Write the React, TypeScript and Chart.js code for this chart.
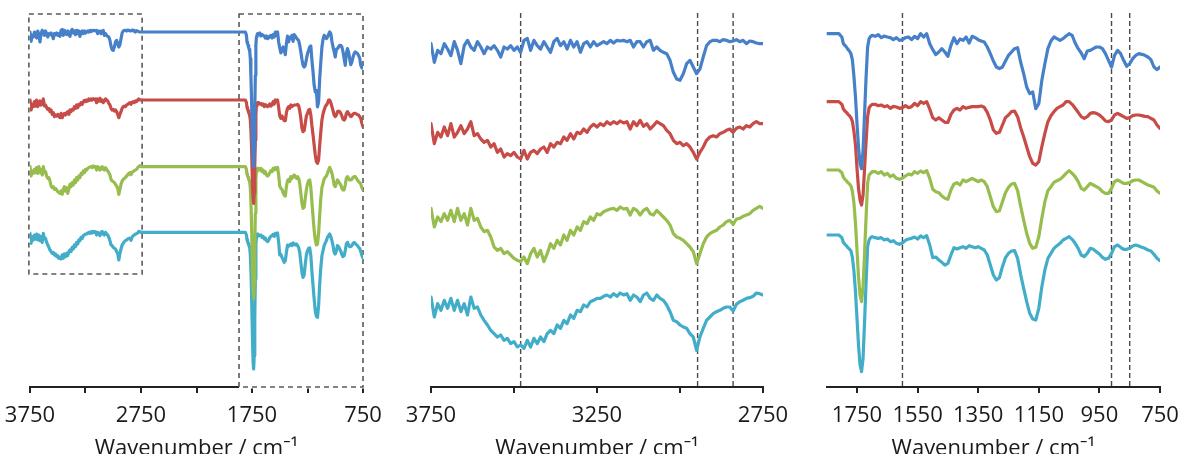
import React, { useEffect, useRef } from 'react';
import { Chart, registerables } from 'chart.js';

Chart.register(...registerables);

// ---- wavenumber grids (cm^-1) ----
const WN_A = [
  3750, 3740, 3730, 3720, 3710, 3700, 3690, 3680, 3670, 3660,
  3650, 3640, 3630, 3620, 3610, 3600, 3590, 3580, 3570, 3560,
  3550, 3540, 3530, 3520, 3510, 3500, 3490, 3480, 3470, 3460,
  3450, 3440, 3430, 3420, 3410, 3400, 3390, 3380, 3370, 3360,
  3350, 3340, 3330, 3320, 3310, 3300, 3290, 3280, 3270, 3260,
  3250, 3240, 3230, 3220, 3210, 3200, 3190, 3180, 3170, 3160,
  3150, 3140, 3130, 3120, 3110, 3100, 3090, 3080, 3070, 3060,
  3050, 3040, 3030, 3020, 3010, 3000, 2990, 2980, 2970, 2960,
  2950, 2940, 2930, 2920, 2910, 2900, 2890, 2880, 2870, 2860,
  2850, 2840, 2830, 2820, 2810, 2800, 2790, 2780, 2770, 2760,
  2750,
];

const WN_B = [
  1850, 1840, 1830, 1820, 1810, 1800, 1795, 1790, 1785, 1780, 1775, 1770, 1765,
  1760, 1755, 1750, 1745, 1740, 1735, 1730, 1725, 1720, 1715, 1710, 1705, 1700,
  1690, 1680, 1670, 1660, 1650, 1640, 1630, 1620, 1610, 1600,
  1590, 1580, 1570, 1560, 1550, 1540, 1530, 1520, 1510, 1500,
  1490, 1480, 1470, 1460, 1450, 1440, 1430, 1420, 1410, 1400,
  1390, 1380, 1370, 1360, 1350, 1340, 1330, 1320, 1310, 1300,
  1290, 1280, 1270, 1260, 1250, 1240, 1230, 1220, 1210, 1200,
  1190, 1180, 1170, 1160, 1150, 1140, 1130, 1120, 1110, 1100,
  1090, 1080, 1070, 1060, 1050, 1040, 1030, 1020, 1010, 1000,
  990, 980, 970, 960, 950, 940, 930, 920, 910, 900,
  890, 880, 870, 860, 850, 840, 830, 820, 810, 800,
  790, 780, 770, 760, 750,
];

// ---- relative transmittance (a.u.), high-wavenumber region ----
const BLUE_A = [
  0, -28, -10, -15, 0, -8, -18, 3, -10, -30,
  -3, 5, -5, -10, 3, -5, -15, -5, -8, -3,
  -10, -20, -5, -8, -3, -10, -5, -13, 5, 8,
  -10, 5, -3, -8, 3, -5, -13, 3, 8, -3,
  3, -8, 5, -5, 3, -13, 0, 3, -5, 3,
  -3, 0, 3, 0, 5, 1, 5, 4, 5, 3,
  5, -5, 3, 3, -5, 3, 5, -10, -5, -10,
  -13, -15, -25, -43, -53, -55, -45, -30, -25, -35,
  -45, -38, -20, -3, 3, 5, 5, 3, 6, 5,
  3, 4, 6, 3, 5, 0, 4, 3, 1, 0,
  0,
];
const RED_A = [
  0, -30, -13, -20, -5, -18, 0, -20, -13, -3,
  -15, -8, 3, -18, -15, -23, -28, -25, -35, -30,
  -43, -38, -50, -45, -48, -43, -50, -53, -40, -53,
  -43, -40, -45, -38, -35, -43, -30, -35, -28, -30,
  -20, -25, -15, -23, -13, -15, -8, -13, -5, -1,
  -5, 0, -3, 3, -1, 3, 0, 4, 1, 3,
  -8, 3, -3, 5, -4, 0, -8, -3, 3, 0,
  -3, -10, -15, -25, -30, -28, -33, -30, -35, -43,
  -53, -43, -35, -25, -20, -18, -20, -15, -13, -10,
  -8, -13, -7, -5, -8, -3, -5, 0, 3, 0,
  0,
];
const GREEN_A = [
  0, -28, -13, -20, -8, -18, -3, -20, 0, -18,
  -8, -25, 0, -18, -15, -28, -35, -33, -43, -58,
  -63, -60, -68, -65, -70, -75, -78, -80, -73, -83,
  -68, -60, -73, -63, -80, -68, -53, -60, -48, -55,
  -40, -48, -33, -40, -28, -33, -20, -23, -13, -18,
  -8, -10, -5, -3, -1, 0, -3, 2, -1, 0,
  -10, 0, -3, -10, -3, 0, -8, -10, -3, -8,
  -13, -18, -25, -38, -43, -45, -48, -53, -58, -65,
  -83, -68, -53, -43, -38, -35, -33, -28, -25, -20,
  -18, -24, -16, -15, -12, -10, -8, -3, 0, 3,
  0,
];
const CYAN_A = [
  -3, -33, -13, -23, -8, -20, -5, -23, -8, -25,
  -13, -30, -3, -20, -18, -30, -38, -45, -53, -58,
  -63, -60, -68, -65, -73, -70, -78, -75, -80, -68,
  -78, -65, -73, -63, -70, -58, -53, -58, -45, -50,
  -38, -43, -30, -35, -23, -25, -15, -18, -10, -8,
  -5, -5, -2, 0, -3, 2, -2, 3, 0, 2,
  -8, 0, -3, -10, 0, 3, -5, -8, 0, -5,
  -8, -15, -25, -38, -40, -45, -48, -50, -58, -63,
  -83, -63, -50, -38, -33, -28, -25, -23, -20, -18,
  -18, -24, -14, -10, -8, -5, -4, -2, 3, 2,
  0,
];

// ---- relative transmittance (a.u.), fingerprint region ----
const BLUE_B = [
  0, 0, 0, 0, 0, -10, -30, -35, -40, -47, -52, -60, -80,
  -130, -190, -270, -340, -390, -405, -350, -240, -130, -40, -15, -8, -5,
  -8, -3, -12, -7, -10, -12, -18, -12, -20, -18,
  -12, -10, -18, -8, -15, 0, -10, 0, -30, -48,
  -63, -55, -45, -55, -68, -35, -12, -30, -16, -20,
  -10, -28, -8, -12, -18, -22, -25, -40, -60, -82,
  -100, -105, -100, -82, -65, -55, -45, -42, -85, -120,
  -160, -180, -175, -225, -210, -140, -90, -45, -22, -10,
  -15, -20, -15, -7, 0, -5, -28, -45, -58, -75,
  -52, -50, -45, -40, -40, -45, -60, -80, -100, -65,
  -50, -60, -80, -98, -90, -75, -65, -60, -62, -65,
  -70, -78, -100, -108, -100,
];
const RED_B = [
  0, 0, 0, 0, 0, -8, -22, -28, -32, -38, -42, -48, -60,
  -90, -130, -200, -260, -295, -310, -280, -200, -120, -45, -18, -12, -8,
  -8, -12, -10, -15, -12, -20, -14, -16, -20, -18,
  -12, -18, -15, -5, -12, 0, -5, 0, -22, -48,
  -55, -48, -55, -62, -62, -38, -25, -20, -25, -15,
  -20, -17, -15, -15, -15, -13, -17, -32, -55, -85,
  -95, -92, -70, -48, -40, -30, -28, -45, -78, -105,
  -135, -165, -185, -190, -180, -135, -95, -60, -42, -30,
  -20, -15, -10, 0, 0, -8, -20, -32, -45, -50,
  -45, -35, -33, -35, -40, -48, -58, -60, -55, -40,
  -35, -40, -45, -50, -48, -42, -40, -40, -42, -44,
  -45, -50, -55, -70, -80,
];
const GREEN_B = [
  0, 0, 0, 0, 0, -8, -22, -28, -32, -38, -42, -48, -65,
  -100, -160, -240, -320, -375, -395, -350, -250, -140, -40, -15, -10, -5,
  -5, -10, -5, -15, -10, -20, -15, -25, -28, -25,
  -18, -12, -15, -5, -10, -3, -8, -2, -25, -58,
  -65, -68, -78, -85, -88, -60, -42, -38, -45, -30,
  -35, -30, -25, -30, -35, -30, -35, -50, -80, -110,
  -125, -122, -95, -68, -52, -42, -40, -62, -108, -150,
  -190, -220, -235, -232, -200, -145, -95, -62, -50, -37,
  -32, -28, -20, -10, -2, -10, -20, -35, -55, -60,
  -50, -40, -45, -50, -55, -65, -70, -70, -55, -35,
  -30, -35, -40, -40, -38, -32, -30, -30, -35, -40,
  -45, -48, -52, -63, -70,
];
const CYAN_B = [
  0, 0, 0, 0, 0, -8, -22, -28, -32, -38, -42, -48, -68,
  -110, -170, -250, -330, -390, -410, -370, -260, -140, -35, -15, -8, -5,
  -8, -10, -8, -15, -12, -20, -17, -25, -28, -24,
  -16, -12, -10, -6, -12, -3, -8, -2, -30, -68,
  -66, -75, -82, -90, -85, -60, -38, -42, -38, -35,
  -40, -32, -35, -38, -35, -40, -45, -60, -90, -120,
  -135, -128, -95, -68, -55, -48, -47, -70, -118, -160,
  -200, -235, -252, -255, -220, -155, -105, -70, -55, -40,
  -32, -25, -15, -10, -5, -13, -25, -40, -60, -65,
  -55, -40, -43, -50, -57, -67, -73, -70, -55, -35,
  -30, -37, -43, -43, -40, -33, -30, -33, -37, -40,
  -45, -48, -58, -70, -77,
];

const SERIES_A = [BLUE_A, RED_A, GREEN_A, CYAN_A];
const SERIES_B = [BLUE_B, RED_B, GREEN_B, CYAN_B];
const SERIES_NAMES = ['Spectrum 1', 'Spectrum 2', 'Spectrum 3', 'Spectrum 4'];

// vertical stacking offsets (a.u.) for each panel
const OFFSETS_P1 = [1065, 861, 661, 464];
const OFFSETS_P2 = [515, 395, 268, 138];
const OFFSETS_P3 = [1060, 856, 651, 456];

// axis ticks / labels
const P1_TICKS = [3750, 3250, 2750, 2250, 1750, 1250, 750];
const P1_LABELS = [3750, 2750, 1750, 750];
const P2_TICKS = [3750, 3500, 3250, 3000, 2750];
const P2_LABELS = [3750, 3250, 2750];
const P3_TICKS = [1750, 1550, 1350, 1150, 950, 750];
const P3_LABELS = [1750, 1550, 1350, 1150, 950, 750];

// marker lines (cm^-1)
const P2_MARKERS = [3480, 2947, 2840];
const P3_MARKERS = [1600, 910, 850];

const AXIS_TITLE = 'Wavenumber / cm\u207B\u00B9';

const COLORS = ['#4680C8', '#C74B47', '#97BD4E', '#42ADC9'];
const FONT = "'Open Sans', 'Noto Sans', sans-serif";
const CANVAS_H = 470;

type Box = { x1: number; x2: number; y1: number; y2: number; onAxis?: boolean };
type Panel = {
  left: number; width: number; padL: number; padR: number;
  xMin: number; xMax: number; yMax: number;
  wn: number[]; series: number[][]; offsets: number[];
  ticks: number[]; labels: number[];
  boxes: Box[]; markers: number[]; markerTop: number;
};

const PANELS: Panel[] = [
  {
    left: 0, width: 400, padL: 30, padR: 37,
    xMin: 750, xMax: 3750, yMax: 1140,
    wn: [...WN_A, ...WN_B],
    series: SERIES_A.map((a, i) => [...a, ...SERIES_B[i]]),
    offsets: OFFSETS_P1,
    ticks: P1_TICKS, labels: P1_LABELS,
    boxes: [
      { x1: 3760, x2: 2740, y1: 1119, y2: 339 },
      { x1: 1867, x2: 750, y1: 1119, y2: 0, onAxis: true },
    ],
    markers: [], markerTop: 0,
  },
  {
    left: 400, width: 400, padL: 31, padR: 37,
    xMin: 2750, xMax: 3750, yMax: 570,
    wn: WN_A, series: SERIES_A, offsets: OFFSETS_P2,
    ticks: P2_TICKS, labels: P2_LABELS,
    boxes: [], markers: P2_MARKERS, markerTop: 561,
  },
  {
    left: 790, width: 393, padL: 36.7, padR: 23,
    xMin: 750, xMax: 1850, yMax: 1140,
    wn: WN_B, series: SERIES_B, offsets: OFFSETS_P3,
    ticks: P3_TICKS, labels: P3_LABELS,
    boxes: [], markers: P3_MARKERS, markerTop: 1122,
  },
];

function makeAnnotations(p: Panel) {
  return {
    id: 'dashedAnnotations',
    beforeDatasetsDraw(chart: any) {
      const { ctx } = chart;
      const xs = chart.scales.x;
      const ys = chart.scales.y;
      ctx.save();
      for (const b of p.boxes) {
        const x1 = xs.getPixelForValue(b.x1);
        const x2 = xs.getPixelForValue(b.x2);
        const y1 = ys.getPixelForValue(b.y1);
        const y2 = ys.getPixelForValue(b.y2);
        if (b.onAxis) {
          ctx.setLineDash([]);
          ctx.strokeStyle = '#ffffff';
          ctx.lineWidth = 3;
          ctx.beginPath();
          ctx.moveTo(x1, y2);
          ctx.lineTo(x2 + 2, y2);
          ctx.stroke();
        }
        ctx.setLineDash([5, 4]);
        ctx.strokeStyle = '#5a5a5a';
        ctx.lineWidth = 1.6;
        ctx.strokeRect(x1, y1, x2 - x1, y2 - y1);
      }
      for (const m of p.markers) {
        const x = xs.getPixelForValue(m);
        ctx.setLineDash([5, 3]);
        ctx.strokeStyle = '#4a4a4a';
        ctx.lineWidth = 1.4;
        ctx.beginPath();
        ctx.moveTo(x, ys.getPixelForValue(p.markerTop));
        ctx.lineTo(x, ys.getPixelForValue(0));
        ctx.stroke();
      }
      ctx.restore();
    },
  };
}

function SpectrumPanel({ p }: { p: Panel }) {
  const ref = useRef<HTMLCanvasElement | null>(null);
  useEffect(() => {
    if (!ref.current) return;
    const datasets = p.series.map((s, i) => ({
      label: SERIES_NAMES[i],
      data: p.wn.map((x, k) => ({ x, y: p.offsets[i] + s[k] })),
      borderColor: COLORS[i],
      backgroundColor: COLORS[i],
      borderWidth: 3.2,
      pointRadius: 0,
      tension: 0,
      borderJoinStyle: 'round' as const,
      borderCapStyle: 'round' as const,
      fill: false,
    }));
    const chart = new Chart(ref.current, {
      type: 'line',
      data: { datasets },
      options: {
        responsive: false,
        animation: false,
        devicePixelRatio: 1,
        layout: { padding: { left: p.padL, right: p.padR, top: 7, bottom: 0 } },
        plugins: { legend: { display: false }, tooltip: { enabled: false } },
        scales: {
          x: {
            type: 'linear',
            reverse: true,
            min: p.xMin,
            max: p.xMax,
            afterBuildTicks: (s: any) => {
              s.ticks = p.ticks.map((v) => ({ value: v }));
            },
            afterFit: (s: any) => {
              s.height = CANVAS_H - 387;
              s.paddingLeft = 0;
              s.paddingRight = 0;
              s.paddingTop = 0;
              s.paddingBottom = 0;
            },
            ticks: {
              autoSkip: false,
              maxRotation: 0,
              padding: 10,
              color: '#1a1a1a',
              font: { family: FONT, size: 22 },
              callback: (v: any) => (p.labels.includes(Number(v)) ? String(v) : ''),
            },
            grid: { drawOnChartArea: false, drawTicks: true, tickLength: 6, color: '#222', lineWidth: 2 },
            border: { display: true, color: '#222', width: 2 },
            title: {
              display: true,
              text: AXIS_TITLE,
              color: '#1a1a1a',
              font: { family: FONT, size: 22 },
              padding: { top: 0, bottom: 8 },
            },
          },
          y: { display: false, min: 0, max: p.yMax },
        },
      },
      plugins: [makeAnnotations(p)],
    });
    return () => chart.destroy();
  }, [p]);
  return (
    <canvas
      ref={ref}
      width={p.width}
      height={CANVAS_H}
      style={{ position: 'absolute', left: p.left, top: 0, width: p.width, height: CANVAS_H }}
    />
  );
}

export default function App() {
  return (
    <div
      style={{
        position: 'absolute', left: 0, top: 0, width: 1183, height: 454,
        overflow: 'hidden', background: '#ffffff',
      }}
    >
      {PANELS.map((p, i) => (
        <SpectrumPanel key={i} p={p} />
      ))}
    </div>
  );
}
